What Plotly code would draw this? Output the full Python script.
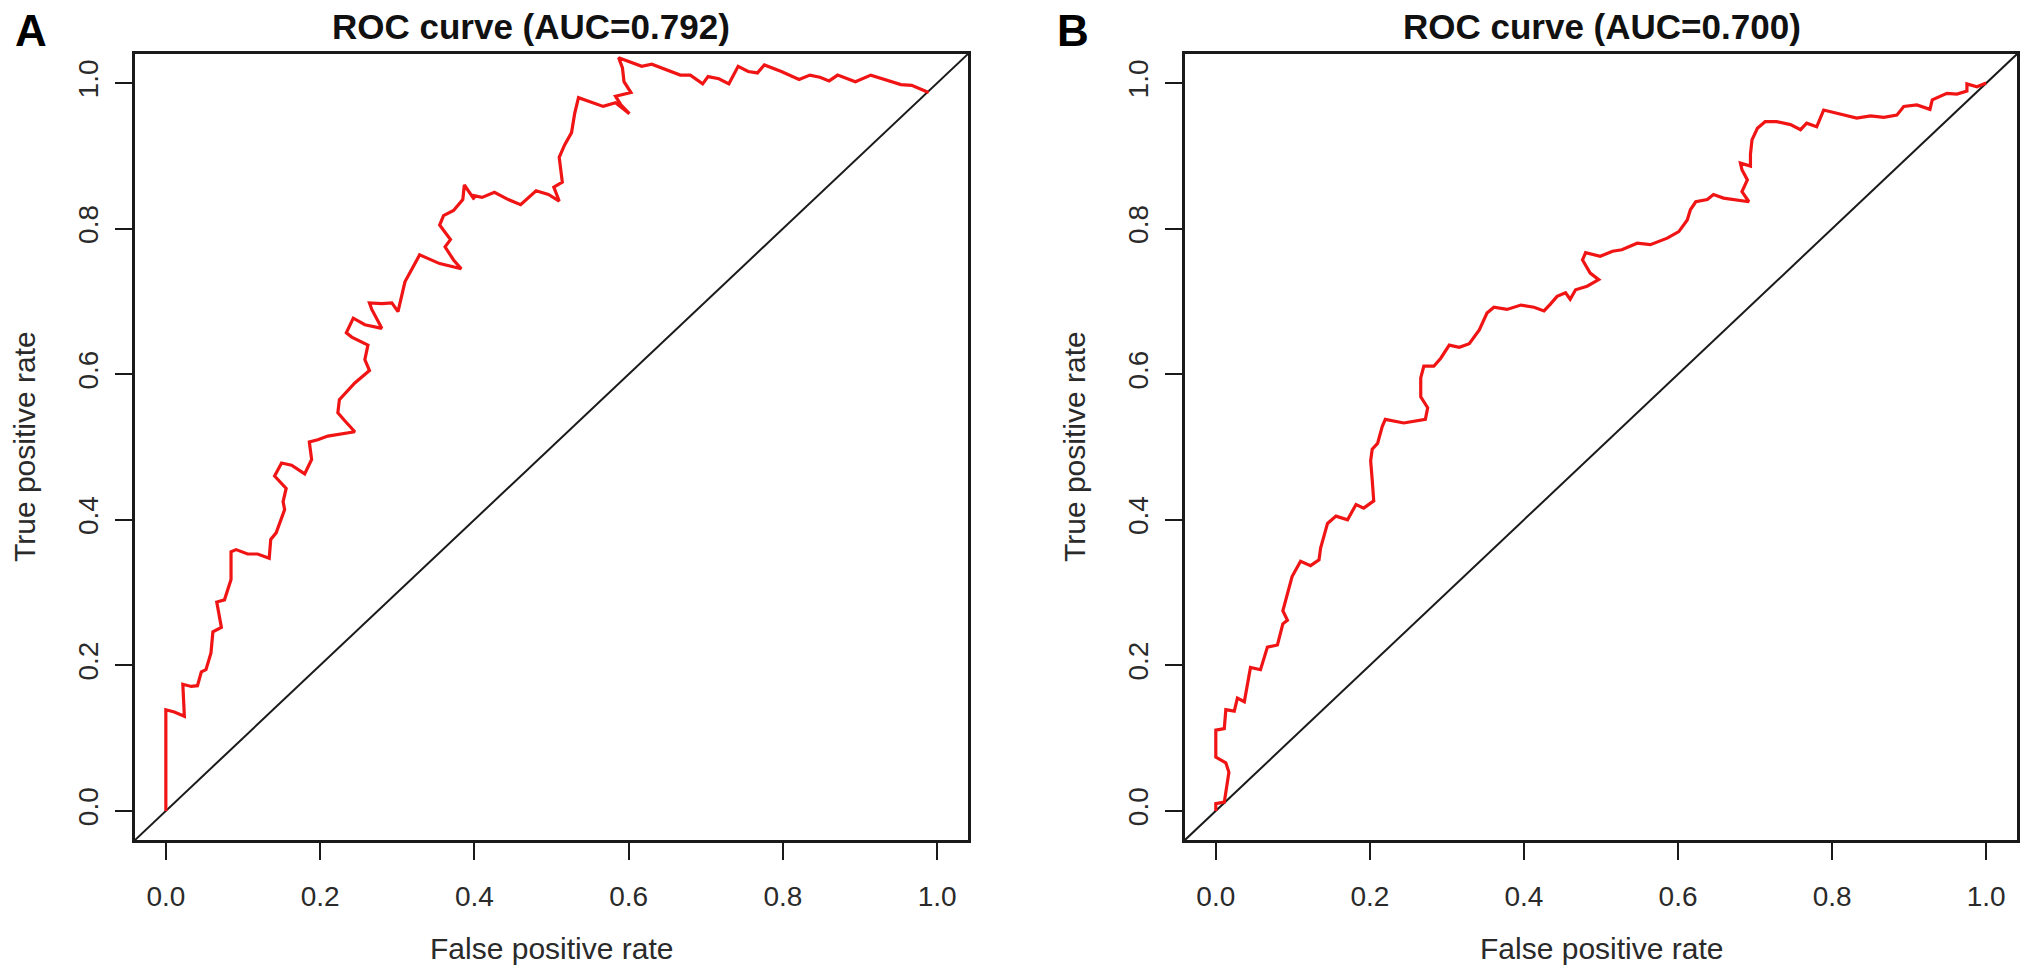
import plotly.graph_objects as go

# ROC curve points (false positive rate, true positive rate)
fpr_a = [0, 0, 0.011, 0.024, 0.022, 0.033, 0.041, 0.046, 0.052, 0.0585, 0.061, 0.072,
         0.066, 0.076, 0.0845, 0.0845, 0.091, 0.106, 0.119, 0.134, 0.136, 0.143, 0.154,
         0.152, 0.156, 0.141, 0.150, 0.163, 0.180, 0.189, 0.186, 0.197, 0.210, 0.230,
         0.245, 0.232, 0.223, 0.225, 0.245, 0.264, 0.258, 0.262, 0.241, 0.234, 0.243,
         0.258, 0.280, 0.267, 0.264, 0.280, 0.293, 0.301, 0.310, 0.329, 0.355, 0.383,
         0.373, 0.362, 0.369, 0.355, 0.360, 0.373, 0.385, 0.387, 0.400, 0.396, 0.410,
         0.426, 0.444, 0.460, 0.480, 0.496, 0.510, 0.503, 0.514, 0.512, 0.510, 0.517,
         0.526, 0.530, 0.535, 0.567, 0.583, 0.601, 0.590, 0.583, 0.603, 0.594, 0.592,
         0.587, 0.603, 0.617, 0.630, 0.648, 0.667, 0.680, 0.696, 0.703, 0.717, 0.730,
         0.742, 0.755, 0.767, 0.776, 0.798, 0.821, 0.835, 0.848, 0.860, 0.871, 0.894,
         0.914, 0.935, 0.953, 0.967, 0.989]
tpr_a = [0, 0.139, 0.136, 0.130, 0.174, 0.171, 0.172, 0.191, 0.194, 0.217, 0.246, 0.252,
         0.287, 0.290, 0.318, 0.356, 0.359, 0.353, 0.353, 0.347, 0.373, 0.382, 0.414,
         0.425, 0.443, 0.460, 0.478, 0.475, 0.463, 0.483, 0.507, 0.510, 0.515, 0.518,
         0.521, 0.536, 0.547, 0.565, 0.588, 0.605, 0.620, 0.640, 0.651, 0.657, 0.677,
         0.668, 0.663, 0.689, 0.698, 0.697, 0.698, 0.686, 0.727, 0.764, 0.752, 0.745,
         0.757, 0.775, 0.785, 0.805, 0.818, 0.825, 0.840, 0.860, 0.840, 0.846, 0.843,
         0.850, 0.840, 0.833, 0.852, 0.847, 0.838, 0.857, 0.864, 0.886, 0.898, 0.915,
         0.932, 0.958, 0.980, 0.968, 0.973, 0.958, 0.970, 0.982, 0.987, 1.002, 1.021,
         1.035, 1.028, 1.023, 1.026, 1.019, 1.011, 1.011, 0.999, 1.009, 1.006, 0.999,
         1.023, 1.016, 1.014, 1.025, 1.016, 1.005, 1.011, 1.008, 1.003, 1.011, 1.002,
         1.011, 1.004, 0.998, 0.997, 0.987]

fpr_b = [0, 0, 0.011, 0.017, 0.013, 0, 0, 0.011, 0.013, 0.024, 0.028, 0.037, 0.045,
         0.058, 0.067, 0.080, 0.087, 0.093, 0.087, 0.095, 0.099, 0.110, 0.123, 0.134,
         0.136, 0.145, 0.156, 0.171, 0.182, 0.192, 0.205, 0.203, 0.201, 0.203, 0.210,
         0.216, 0.220, 0.244, 0.259, 0.272, 0.275, 0.266, 0.266, 0.270, 0.283, 0.292,
         0.303, 0.316, 0.329, 0.342, 0.352, 0.361, 0.378, 0.396, 0.413, 0.426, 0.434,
         0.443, 0.454, 0.460, 0.467, 0.482, 0.497, 0.486, 0.476, 0.480, 0.499, 0.515,
         0.527, 0.547, 0.564, 0.586, 0.601, 0.612, 0.616, 0.623, 0.638, 0.646, 0.659,
         0.674, 0.692, 0.683, 0.690, 0.683, 0.681, 0.694, 0.694, 0.696, 0.703, 0.713,
         0.728, 0.746, 0.759, 0.767, 0.780, 0.789, 0.804, 0.824, 0.832, 0.850, 0.867,
         0.884, 0.893, 0.910, 0.927, 0.930, 0.949, 0.962, 0.975, 0.975, 0.988, 1.0]
tpr_b = [0, 0.010, 0.012, 0.053, 0.066, 0.074, 0.111, 0.113, 0.139, 0.137, 0.155, 0.150,
         0.197, 0.194, 0.225, 0.228, 0.257, 0.262, 0.275, 0.306, 0.322, 0.343, 0.337,
         0.345, 0.361, 0.395, 0.405, 0.400, 0.421, 0.416, 0.426, 0.455, 0.481, 0.497,
         0.505, 0.528, 0.538, 0.533, 0.536, 0.538, 0.554, 0.569, 0.595, 0.611, 0.611,
         0.622, 0.640, 0.637, 0.642, 0.661, 0.684, 0.692, 0.689, 0.695, 0.692, 0.687,
         0.696, 0.707, 0.712, 0.703, 0.716, 0.721, 0.730, 0.739, 0.757, 0.767, 0.762,
         0.769, 0.771, 0.780, 0.778, 0.787, 0.796, 0.812, 0.826, 0.837, 0.840, 0.847,
         0.842, 0.840, 0.837, 0.851, 0.867, 0.881, 0.890, 0.886, 0.902, 0.922, 0.938,
         0.947, 0.947, 0.943, 0.936, 0.945, 0.940, 0.963, 0.959, 0.954, 0.952, 0.955,
         0.953, 0.956, 0.968, 0.970, 0.964, 0.977, 0.986, 0.985, 0.989, 0.999, 0.995,
         1.0]

titles = ["ROC curve (AUC=0.792)", "ROC curve (AUC=0.700)"]
panel_labels = ["A", "B"]
tick_vals = [0, 0.2, 0.4, 0.6, 0.8, 1.0]
tick_text = ["0.0", "0.2", "0.4", "0.6", "0.8", "1.0"]
axis_range = [-0.04, 1.04]

W, H = 2031, 978
font = "Liberation Sans, Arial, sans-serif"

fig = go.Figure()

curves = [(fpr_a, tpr_a), (fpr_b, tpr_b)]
for i, (fx, ty) in enumerate(curves):
    xa = "x" if i == 0 else "x2"
    ya = "y" if i == 0 else "y2"
    # chance line corner to corner
    fig.add_trace(go.Scatter(x=axis_range, y=axis_range, mode="lines",
                             line=dict(color="#1a1a1a", width=2),
                             xaxis=xa, yaxis=ya, showlegend=False, hoverinfo="skip"))
    fig.add_trace(go.Scatter(x=fx, y=ty, mode="lines",
                             line=dict(color="#f01414", width=3.2),
                             xaxis=xa, yaxis=ya, showlegend=False))

axis_common = dict(
    range=axis_range, showgrid=False, zeroline=False,
    showline=True, mirror=True, linecolor="#1a1a1a", linewidth=2.5,
    ticks="outside", ticklen=17, tickwidth=2, tickcolor="#1a1a1a",
    tickvals=tick_vals, ticktext=tick_text,
    tickfont=dict(family=font, size=28, color="#2a2a2a"),
)

x_domains = [[135 / W, 968 / W], [1185 / W, 2017 / W]]
y_domain = [(H - 840) / H, (H - 54) / H]

fig.update_layout(
    width=W, height=H,
    margin=dict(l=0, r=0, t=0, b=0),
    paper_bgcolor="white", plot_bgcolor="white",
    xaxis=dict(domain=x_domains[0], anchor="y", ticklabelstandoff=13, **axis_common),
    yaxis=dict(domain=y_domain, anchor="x", tickangle=-90, ticklabelstandoff=6, **axis_common),
    xaxis2=dict(domain=x_domains[1], anchor="y2", ticklabelstandoff=13, **axis_common),
    yaxis2=dict(domain=y_domain, anchor="x2", tickangle=-90, ticklabelstandoff=6, **axis_common),
)

title_x = [531 / W, 1602 / W]
letter_x = [13 / W, 1055 / W]
ytitle_x = [24 / W, 1074 / W]
for i in range(2):
    xc = (x_domains[i][0] + x_domains[i][1]) / 2
    fig.add_annotation(text="<b>" + panel_labels[i] + "</b>", x=letter_x[i], y=1 - 31 / H,
                       xref="paper", yref="paper", xanchor="left", yanchor="middle",
                       showarrow=False, font=dict(family=font, size=44, color="black"))
    fig.add_annotation(text="<b>" + titles[i] + "</b>", x=title_x[i], y=1 - 27 / H,
                       xref="paper", yref="paper", xanchor="center", yanchor="middle",
                       showarrow=False, font=dict(family=font, size=35, color="#111"))
    fig.add_annotation(text="False positive rate", x=xc, y=1 - 948 / H,
                       xref="paper", yref="paper", xanchor="center", yanchor="middle",
                       showarrow=False, font=dict(family=font, size=30, color="#2a2a2a"))
    fig.add_annotation(text="True positive rate", x=ytitle_x[i], y=1 - 447 / H,
                       xref="paper", yref="paper", xanchor="center", yanchor="middle",
                       textangle=-90, showarrow=False,
                       font=dict(family=font, size=30, color="#2a2a2a"))

fig.write_html("out.html", config={"displayModeBar": False},
               post_script="document.body.style.margin='0';")
